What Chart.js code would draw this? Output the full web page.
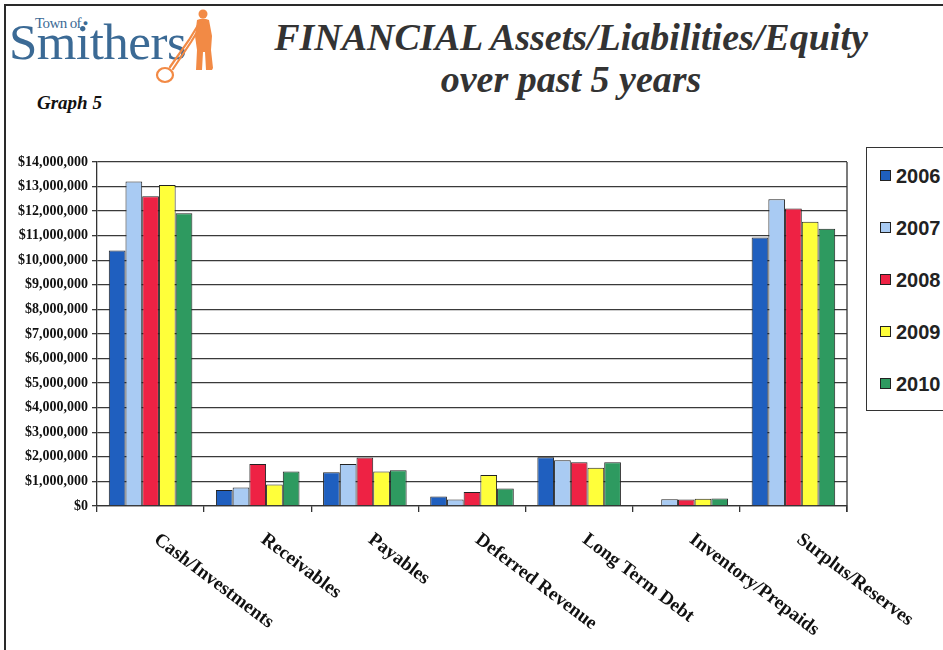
<!DOCTYPE html>
<html lang="en">
<head>
  <meta charset="UTF-8" />
  <title>FINANCIAL Assets/Liabilities/Equity over past 5 years</title>
  <script src="https://cdn.jsdelivr.net/npm/chart.js"></script>
  <style>
    html, body {
      margin: 0;
      padding: 0;
      background: #ffffff;
      width: 943px;
      height: 650px;
      overflow: hidden;
    }
    #page {
      position: absolute;
      left: 4px;
      top: 4px;
      width: 950px;
      height: 660px;
      border-top: 2.5px solid #2a2a2a;
      border-left: 2.5px solid #2a2a2a;
    }
    #logo {
      position: absolute;
      left: 0;
      top: 0;
    }
    .town {
      position: absolute;
      left: 35px;
      top: 15px;
      white-space: nowrap;
      font-family: "Liberation Serif", serif;
      font-size: 15px;
      color: #3b6a95;
      letter-spacing: -0.6px;
    }
    .smithers {
      position: absolute;
      left: 9px;
      top: 13px;
      white-space: nowrap;
      font-family: "Liberation Serif", serif;
      font-size: 51px;
      color: #3b6a95;
      letter-spacing: -0.5px;
    }
    .title {
      position: absolute;
      left: 200px;
      width: 742px;
      text-align: center;
      white-space: nowrap;
      font-family: "Liberation Serif", serif;
      font-style: italic;
      font-weight: bold;
      font-size: 38px;
      color: #333;
    }
    #graph-no {
      position: absolute;
      left: 37px;
      top: 92px;
      font-family: "Liberation Serif", serif;
      font-style: italic;
      font-weight: bold;
      font-size: 19px;
      color: #111;
    }
    #chart-wrap {
      position: absolute;
      left: 0;
      top: 0;
      width: 943px;
      height: 650px;
    }
    #legend {
      position: absolute;
      left: 866px;
      top: 147px;
      width: 100px;
      height: 264px;
      border: 1.5px solid #333;
      box-sizing: border-box;
      background: #fff;
    }
    .legend-item {
      position: absolute;
      left: 13px;
      font-family: "Liberation Sans", sans-serif;
      font-weight: bold;
      font-size: 20px;
      color: #222;
      line-height: 20px;
    }
    .legend-item i {
      display: inline-block;
      width: 9px;
      height: 9px;
      border: 1px solid #222;
      margin-right: 5px;
      vertical-align: 2px;
    }
  </style>
</head>
<body>
  <div id="page"></div>

  <div id="logo">
    <span class="smithers">Smithers</span>
    <span class="town">Town of<span style="font-size:9px;vertical-align:2px;">&nbsp;&#9679;</span></span>
    <svg width="230" height="90" style="position:absolute;left:0;top:0;">
      <!-- alphorn player -->
      <g fill="#f28a45" stroke="none">
        <circle cx="203" cy="14" r="4.5" />
        <path d="M197 20 Q203 17 209 20 L212 36 L211 50 L213 68 L212 70 L206 70 L205 52 L203 52 L202 70 L196 70 L197 50 L195 36 Z" />
      </g>
      <g fill="none" stroke="#f28a45" stroke-width="2.2" stroke-linecap="round">
        <path d="M200 22 L189 40 L170 67" />
        <path d="M202 24 L191 42 L173 69" />
        <ellipse cx="165" cy="75" rx="8" ry="7" />
      </g>
    </svg>
  </div>

  <div class="title" style="top:15px;">FINANCIAL Assets/Liabilities/Equity</div>
  <div class="title" style="top:57px;">over past 5 years</div>
  <div id="graph-no">Graph 5</div>

  <div id="chart-wrap"><canvas id="chart"></canvas></div>
  <div id="legend"></div>

  <script>
  const categories = ['Cash/Investments', 'Receivables', 'Payables', 'Deferred Revenue',
                      'Long Term Debt', 'Inventory/Prepaids', 'Surplus/Reserves'];
  const years = ['2006', '2007', '2008', '2009', '2010'];

  const v2006 = [10400000, 650000, 1370000, 390000, 1980000, 0, 10930000];
  const v2007 = [13210000, 750000, 1710000, 260000, 1860000, 270000, 12480000];
  const v2008 = [12610000, 1710000, 1970000, 570000, 1780000, 260000, 12110000];
  const v2009 = [13060000, 880000, 1400000, 1260000, 1560000, 300000, 11570000];
  const v2010 = [11910000, 1400000, 1450000, 710000, 1780000, 310000, 11280000];

  const colors = ['#1f5fbf', '#a9cbf3', '#ee2244', '#ffff3a', '#2e9a60'];
  const series = [v2006, v2007, v2008, v2009, v2010];

  // slanted category labels, drawn from the x scale's own tick positions
  const slantedLabels = {
    id: 'slantedLabels',
    afterDraw(chart) {
      const ctx = chart.ctx;
      const x = chart.scales.x;
      ctx.save();
      ctx.font = 'bold 19px "Liberation Serif", serif';
      ctx.fillStyle = '#111';
      ctx.textAlign = 'left';
      ctx.textBaseline = 'top';
      categories.forEach((c, i) => {
        ctx.save();
        ctx.translate(x.getPixelForTick(i) + 11, x.top + 24);
        ctx.rotate(37 * Math.PI / 180);
        ctx.fillText(c, 0, 0);
        ctx.restore();
      });
      // right edge of the plot frame, with its tick below the axis
      const a = chart.chartArea;
      ctx.strokeStyle = '#333';
      ctx.lineWidth = 1.3;
      ctx.beginPath();
      ctx.moveTo(a.right, a.top);
      ctx.lineTo(a.right, a.bottom + 6);
      ctx.stroke();
      ctx.restore();
    }
  };

  new Chart(document.getElementById('chart'), {
    type: 'bar',
    data: {
      labels: categories,
      datasets: years.map((y, i) => ({
        label: y,
        data: series[i],
        backgroundColor: colors[i],
        borderColor: '#222',
        borderWidth: 1,
        barPercentage: 1,
        categoryPercentage: 0.78
      }))
    },
    options: {
      responsive: true,
      maintainAspectRatio: false,
      animation: false,
      layout: { padding: { left: 0, top: 162, right: 96, bottom: 0 } },
      plugins: {
        legend: { display: false },
        tooltip: { enabled: false }
      },
      scales: {
        x: {
          offset: true,
          grid: {
            offset: true,
            drawOnChartArea: false,
            drawTicks: true,
            tickLength: 6,
            color: '#333',
            lineWidth: 1.3
          },
          border: { display: true, color: '#333', width: 1.3 },
          ticks: { display: false },
          afterFit(scale) { scale.height = 144; }
        },
        y: {
          min: 0,
          max: 14000000,
          grid: {
            color: '#3a3a3a',
            lineWidth: 1.3,
            tickLength: 5,
            drawTicks: true
          },
          border: { display: true, color: '#333', width: 1.3 },
          ticks: {
            stepSize: 1000000,
            padding: 4,
            color: '#111',
            font: { family: '"Liberation Serif", serif', size: 14, weight: 'bold' },
            callback: v => '$' + v.toLocaleString('en-US')
          },
          afterFit(scale) { scale.width = 97; }
        }
      }
    },
    plugins: [slantedLabels]
  });

  // legend box on the right
  const legend = document.getElementById('legend');
  years.forEach((y, i) => {
    const item = document.createElement('div');
    item.className = 'legend-item';
    item.style.top = (18 + i * 52) + 'px';
    item.innerHTML = `<i style="background:${colors[i]}"></i>${y}`;
    legend.appendChild(item);
  });
  </script>
</body>
</html>
